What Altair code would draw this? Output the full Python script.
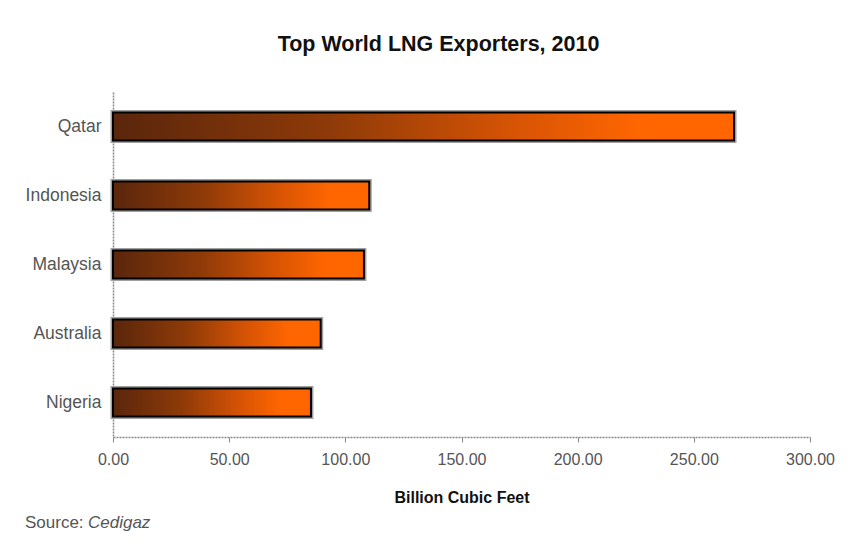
import altair as alt
import pandas as pd

countries = ["Qatar", "Indonesia", "Malaysia", "Australia", "Nigeria"]
values = [267.3, 110.3, 108.0, 89.4, 85.2]
x_ticks = [0, 50, 100, 150, 200, 250, 300]

df = pd.DataFrame({"country": countries, "value": values})

grad = alt.Gradient(
    gradient="linear",
    stops=[
        alt.GradientStop(color="#5a260c", offset=0),
        alt.GradientStop(color="#8e3a08", offset=0.35),
        alt.GradientStop(color="#d85404", offset=0.65),
        alt.GradientStop(color="#ff6600", offset=0.85),
        alt.GradientStop(color="#ff6600", offset=1),
    ],
    x1=0, x2=1, y1=0, y2=0,
)

x_enc = alt.X(
    "value:Q",
    scale=alt.Scale(domain=[0, 300], nice=False),
    axis=alt.Axis(
        values=x_ticks, format=".2f", title="Billion Cubic Feet",
        grid=False, domainColor="#888", domainDash=[2, 1], domainWidth=1.5,
        tickColor="#888", tickSize=5, labelPadding=9,
        labelFlush=False, labelOverlap=False,
        labelFont="Liberation Sans", labelFontSize=16, labelColor="#555",
        titleFont="Liberation Sans", titleFontSize=16, titleFontWeight="bold",
        titleColor="#111", titlePadding=22,
    ),
)
y_enc = alt.Y(
    "country:N", sort=countries,
    scale=alt.Scale(paddingInner=0.6, paddingOuter=0.3),
    axis=alt.Axis(
        title=None, ticks=False, domainColor="#888", domainDash=[2, 1], domainWidth=1.5,
        labelPadding=12, labelFont="Liberation Sans", labelFontSize=17.5, labelColor="#555",
    ),
)

shadow = alt.Chart(df).mark_bar(
    fill=None, stroke="#a0a0a0", strokeWidth=5, size=28
).encode(x=x_enc, y=y_enc)

bars = alt.Chart(df).mark_bar(
    fill=grad, stroke="#000", strokeWidth=2, size=28
).encode(x=x_enc, y=y_enc)

source = alt.Chart(pd.DataFrame({"t": ["Source: "]})).mark_text(
    align="left", baseline="alphabetic", font="Liberation Sans", fontSize=17, color="#555"
).encode(x=alt.value(-88), y=alt.value(436), text="t:N")

source2 = alt.Chart(pd.DataFrame({"c": ["Cedigaz"]})).mark_text(
    align="left", baseline="alphabetic", font="Liberation Sans", fontSize=17,
    fontStyle="italic", color="#555"
).encode(x=alt.value(-25), y=alt.value(436), text="c:N")

chart = alt.layer(shadow, bars, source, source2).properties(
    width=697, height=345,
    background="white",
    title=alt.TitleParams(
        "Top World LNG Exporters, 2010", font="Liberation Sans", fontSize=21.5,
        fontWeight="bold", color="#111", dx=-23, offset=37, anchor="middle",
    ),
    autosize=alt.AutoSizeParams(type="none"),
    padding={"left": 113, "top": 92, "right": 40, "bottom": 111},
).configure_view(stroke=None)

chart.save("out.html", embed_options={"renderer": "svg", "actions": False})
